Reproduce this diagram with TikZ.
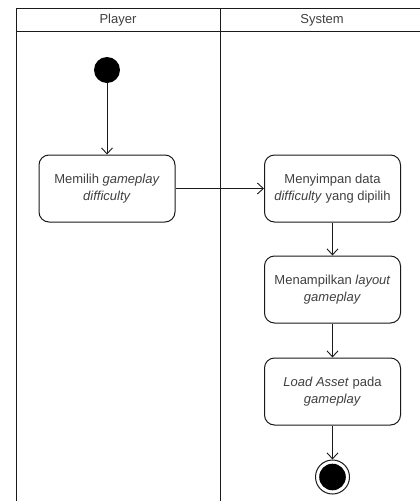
\documentclass[tikz,border=0pt]{standalone}
\usepackage{fontspec}
\setmainfont{Liberation Sans}
\usetikzlibrary{arrows.meta}
\definecolor{txt}{HTML}{404040}
\definecolor{ln}{HTML}{1A1A1A}
\tikzset{
  lane/.style={draw=ln, line width=0.9pt},
  hdr/.style={text=txt, font=\fontsize{13}{15}\selectfont, inner sep=0},
  act/.style={draw=ln, line width=1pt, rounded corners=10pt, minimum width=136pt, minimum height=67pt, align=center, text=txt, font=\fontsize{13}{16.5}\selectfont, inner sep=2pt},
  flow/.style={draw=ln, line width=0.9pt, -{Straight Barb[length=6pt,width=11pt,line width=0.9pt]}},
  startnode/.style={circle, fill=black, minimum size=26pt, inner sep=0},
  endnode/.style={circle, draw=ln, line width=1pt, fill=white, minimum size=34pt, inner sep=0},
}
\begin{document}
\begin{tikzpicture}[x=1pt, y=-1pt]
\useasboundingbox (0,0) rectangle (420,501);
\fill[white] (0,0) rectangle (420,501);
\begin{scope}
\clip (0,0) rectangle (420,501);
% swimlanes
\draw[lane] (16.5,8.5) rectangle (424,530);
\draw[lane] (16.5,31.5) -- (424,31.5);
\draw[lane] (220,8.5) -- (220,530);
\node[hdr] (hplayer) at (118,20) {Player};
\node[hdr] (hsystem) at (322,20) {System};
% nodes
\node[startnode] (start) at (107,70) {};
\node[act] (a1) at (107,188.5) {Memilih \textit{gameplay}\\\textit{difficulty}};
\node[act] (a2) at (332.5,188.5) {Menyimpan data\\\textit{difficulty} yang dipilih};
\node[act] (a3) at (332.5,289.5) {Menampilkan \textit{layout}\\\textit{gameplay}};
\node[act] (a4) at (332.5,391.5) {\textit{Load Asset} pada\\\textit{gameplay}};
\node[endnode] (end) at (332.5,477) {};
\fill[black] (end.center) circle (13.3);
% flows
\draw[flow] (start) -- (a1);
\draw[flow] (a1) -- (a2);
\draw[flow] (a2) -- (a3);
\draw[flow] (a3) -- (a4);
\draw[flow] (a4) -- (end);
\end{scope}
\end{tikzpicture}
\end{document}
